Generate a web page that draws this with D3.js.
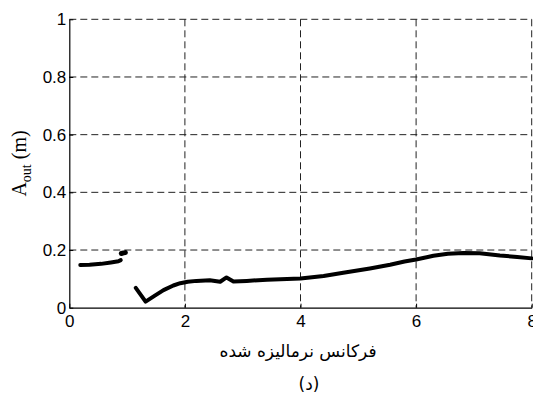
<!DOCTYPE html>
<html>
<head>
<meta charset="utf-8">
<script src="https://cdn.jsdelivr.net/npm/d3@7"></script>
<style>
  html, body { margin: 0; padding: 0; background: #fff; }
  svg { display: block; }
</style>
</head>
<body>
<svg id="chart" width="533" height="405"></svg>
<script>
// Normalized frequency (x) and output amplitude in metres (y), three curve pieces
const seg1X = [0.19, 0.35, 0.55, 0.72, 0.85, 0.89];
const seg1Y = [0.148, 0.149, 0.152, 0.157, 0.161, 0.165];
const dotX = [0.90, 0.94, 0.97];
const dotY = [0.188, 0.190, 0.191];
const seg2X = [1.15, 1.32, 1.48, 1.63, 1.8, 1.92, 2.05, 2.2, 2.43, 2.61, 2.72, 2.84, 3.07, 3.42, 4.0, 4.4, 4.74, 5.2, 5.55, 5.8, 6.0, 6.3, 6.55, 6.82, 7.1, 7.45, 7.75, 8.0];
const seg2Y = [0.069, 0.021, 0.042, 0.061, 0.077, 0.085, 0.090, 0.093, 0.095, 0.090, 0.105, 0.091, 0.093, 0.097, 0.101, 0.110, 0.121, 0.136, 0.149, 0.160, 0.167, 0.180, 0.187, 0.190, 0.189, 0.181, 0.176, 0.171];

const xTicks = [0, 2, 4, 6, 8];
const yTicks = [0, 0.2, 0.4, 0.6, 0.8, 1];
const yTickLabels = ["0", "0.2", "0.4", "0.6", "0.8", "1"];
const xTitle = "فرکانس نرمالیزه شده";
const caption = "(د)";

const svg = d3.select("#chart");
const mLeft = 69.3, mRight = 531.7, mTop = 19.3, mBottom = 307.7;

const x = d3.scaleLinear().domain([0, 8]).range([mLeft, mRight]);
const y = d3.scaleLinear().domain([0, 1]).range([mBottom, mTop]);

// dashed grid
const grid = svg.append("g").attr("stroke", "#222").attr("stroke-width", 1)
  .attr("stroke-dasharray", "7,4").attr("fill", "none");
grid.selectAll("line.v").data(xTicks.filter(d => d > 0)).join("line")
  .attr("class", "v")
  .attr("x1", d => x(d)).attr("x2", d => x(d))
  .attr("y1", mTop).attr("y2", mBottom);
grid.selectAll("line.h").data(yTicks.filter(d => d > 0)).join("line")
  .attr("class", "h")
  .attr("x1", mLeft).attr("x2", mRight)
  .attr("y1", d => y(d)).attr("y2", d => y(d));

// axes
const font = "'Liberation Sans', Arial, sans-serif";
const xAxis = svg.append("g").attr("transform", `translate(0,${mBottom})`)
  .call(d3.axisBottom(x).tickValues(xTicks).tickFormat(d3.format("d")).tickSizeInner(-4).tickSizeOuter(0).tickPadding(7));
const yAxis = svg.append("g").attr("transform", `translate(${mLeft},0)`)
  .call(d3.axisLeft(y).tickValues(yTicks).tickFormat((d, i) => yTickLabels[i]).tickSizeInner(-4).tickSizeOuter(0).tickPadding(3));
[xAxis, yAxis].forEach(a => {
  a.select(".domain").attr("stroke", "#000").attr("stroke-width", 1.2);
  a.selectAll(".tick line").attr("stroke", "#000");
  a.selectAll("text").attr("font-family", font).attr("font-size", 17).attr("fill", "#000");
});

// curves
const line = d3.line().x(d => x(d[0])).y(d => y(d[1]));
const pieces = [
  d3.zip(seg1X, seg1Y),
  d3.zip(dotX, dotY),
  d3.zip(seg2X, seg2Y)
];
svg.append("g").selectAll("path").data(pieces).join("path")
  .attr("d", line)
  .attr("fill", "none").attr("stroke", "#000")
  .attr("stroke-width", (d, i) => i === 1 ? 5 : 4)
  .attr("stroke-linecap", "round").attr("stroke-linejoin", "round");

// y title: A_out (m)
const yt = svg.append("text")
  .attr("transform", `translate(26,${(mTop + mBottom) / 2}) rotate(-90)`)
  .attr("text-anchor", "middle")
  .attr("font-family", "'Liberation Serif', 'Times New Roman', serif")
  .attr("font-size", 20).attr("fill", "#000");
yt.append("tspan").text("A");
yt.append("tspan").attr("font-size", 14).attr("dy", 5).text("out");
yt.append("tspan").attr("dy", -5).text(" (m)");

// x title and caption
svg.append("text").attr("x", 298).attr("y", 357)
  .attr("text-anchor", "middle").attr("direction", "rtl")
  .attr("font-family", "'DejaVu Sans', sans-serif").attr("font-size", 17).attr("fill", "#000")
  .text(xTitle);
svg.append("text").attr("x", 309).attr("y", 390)
  .attr("text-anchor", "middle")
  .attr("font-family", "'DejaVu Sans', sans-serif").attr("font-size", 17).attr("fill", "#000")
  .text(caption);
</script>
</body>
</html>
